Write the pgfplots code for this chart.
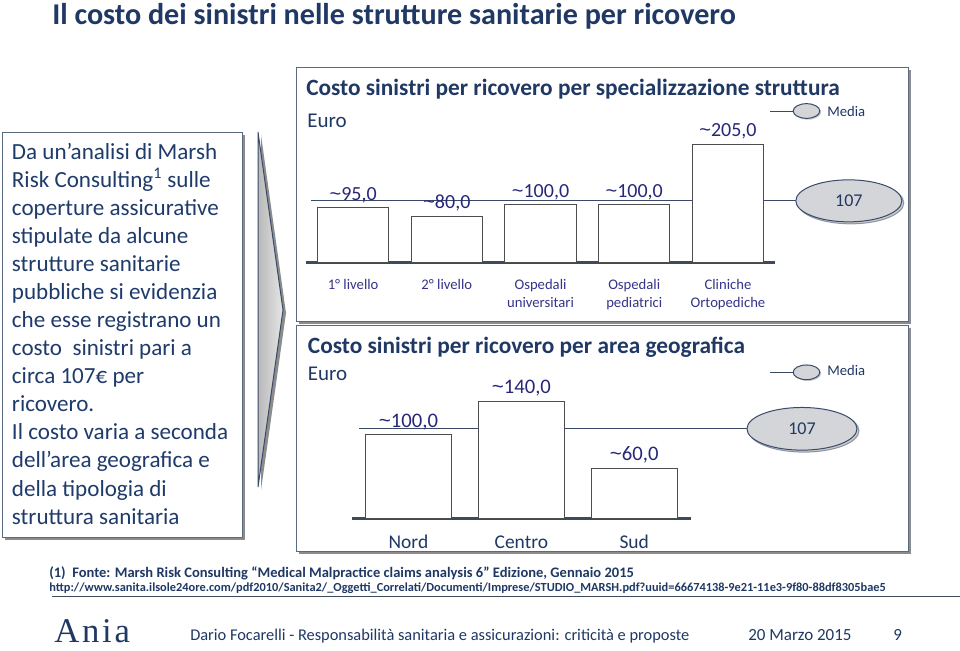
\documentclass[border=0pt]{standalone}
\usepackage{fontspec}
\setmainfont{Carlito}
\newfontfamily\aniafont[LetterSpace=8]{Liberation Serif}
\newfontfamily\tildefont{Liberation Sans}
\usepackage{pgfplots}
\pgfplotsset{compat=1.18}
\usetikzlibrary{shapes.geometric,shadows}

\definecolor{navy}{HTML}{1F3864}
\definecolor{txtblue}{HTML}{1F3B6B}
\definecolor{vallab}{HTML}{27277A}
\definecolor{catlab}{HTML}{35358A}
\definecolor{boxline}{HTML}{5A6A80}
\definecolor{shadowgray}{HTML}{8C8C8C}
\definecolor{baseln}{HTML}{3F4B5B}
\definecolor{medline}{HTML}{3A4A66}
\definecolor{ellfill}{HTML}{D3D5D9}
\definecolor{ellline}{HTML}{3A4A6A}
\definecolor{bardraw}{HTML}{4D4D4D}

\newcommand\fs[2]{\fontsize{#1}{#2}\selectfont}
\newcommand\tld{{\tildefont\textasciitilde}}
\newcommand\ltl[2]{\node[anchor=base west,inner sep=0,text=txtblue,font=\fs{17.3}{21}] at (11.7,#1) {#2};}

\begin{document}
\begin{tikzpicture}
\begin{scope}[x=0.75pt,y=-0.75pt]
\path[use as bounding box, fill=white] (0,0) rectangle (960,650);
% title
\node[anchor=base west, inner sep=0, text=navy, font=\fs{22.6}{26}\bfseries] at (52,24) {Il costo dei sinistri nelle strutture sanitarie per ricovero};
% left box
\fill[shadowgray] (5,135) rectangle (245,540);
\draw[boxline, fill=white, line width=0.75pt] (2,132) rectangle (242,537);
\ltl{159}{Da un’analisi di Marsh}
\ltl{187.1}{Risk Consulting\textsuperscript{1} sulle}
\ltl{215.2}{coperture assicurative}
\ltl{243.2}{stipulate da alcune}
\ltl{271.3}{strutture sanitarie}
\ltl{299.4}{pubbliche si evidenzia}
\ltl{327.5}{che esse registrano un}
\ltl{355.6}{costo\ \ sinistri pari a}
\ltl{383.6}{circa 107€ per}
\ltl{411.7}{ricovero.}
\ltl{439.8}{Il costo varia a seconda}
\ltl{467.9}{dell’area geografica e}
\ltl{496}{della tipologia di}
\ltl{524}{struttura sanitaria}
% chevron
\fill[shadowgray] (261,135) -- (286,313) -- (261,490) -- cycle;
\draw[ellline, line width=0.75pt, left color=gray!55, right color=gray!20] (258,132) -- (283,310) -- (258,487) -- cycle;
% right boxes
\fill[shadowgray] (299,70) rectangle (911,324);
\draw[boxline, fill=white, line width=0.75pt] (296,67) rectangle (908,321);
\fill[shadowgray] (299,328) rectangle (911,554);
\draw[boxline, fill=white, line width=0.75pt] (296,325) rectangle (908,551);
% chart titles
\node[anchor=base west, inner sep=0, text=navy, font=\fs{17.5}{21}\bfseries] at (306,95.5) {Costo sinistri per ricovero per specializzazione struttura};
\node[anchor=base west, inner sep=0, text=navy, font=\fs{15.75}{19}] at (307,127.5) {Euro};
\node[anchor=base west, inner sep=0, text=navy, font=\fs{17.5}{21}\bfseries] at (307.7,353) {Costo sinistri per ricovero per area geografica};
\node[anchor=base west, inner sep=0, text=navy, font=\fs{15.75}{19}] at (307.7,380) {Euro};
% legends
\draw[medline, line width=0.75pt] (770,111) -- (795,111);
\node[ellipse, draw=ellline, fill=ellfill, line width=0.75pt, minimum width=20pt, minimum height=11pt, inner sep=0, drop shadow={shadow xshift=1pt, shadow yshift=-1pt, fill=gray!80}] at (806.5,111) {};
\node[anchor=base west, inner sep=0, text=navy, font=\fs{11}{13}] at (827,116.4) {Media};
\draw[medline, line width=0.75pt] (770,372.3) -- (795,372.3);
\node[ellipse, draw=ellline, fill=ellfill, line width=0.75pt, minimum width=20pt, minimum height=11pt, inner sep=0, drop shadow={shadow xshift=1pt, shadow yshift=-1pt, fill=gray!80}] at (806.5,372.3) {};
\node[anchor=base west, inner sep=0, text=navy, font=\fs{11}{13}] at (827,375.4) {Media};
% footnote
\node[anchor=base west, inner sep=0, text=navy, font=\fs{10.9}{12}\bfseries] at (49,577) {(1)\ \ Fonte: Marsh Risk Consulting “Medical Malpractice claims analysis 6” Edizione, Gennaio 2015};
\node[anchor=base west, inner sep=0, text=navy, font=\fs{9.27}{11}\bfseries] at (49,591.5) {http://www.sanita.ilsole24ore.com/pdf2010/Sanita2/\_Oggetti\_Correlati/Documenti/Imprese/STUDIO\_MARSH.pdf?uuid=66674138-9e21-11e3-9f80-88df8305bae5};
\draw[baseln, line width=1pt] (52,596.5) -- (960,596.5);
% footer
\node[anchor=base west, inner sep=0, text=navy, font=\aniafont\fs{26}{28}] at (54,642) {Ania};
\node[anchor=base west, inner sep=0, text=navy, font=\fs{12.3}{15}] at (190,640) {Dario Focarelli - Responsabilità sanitaria e assicurazioni: criticità e proposte};
\node[anchor=base west, inner sep=0, text=navy, font=\fs{12.75}{15}] at (748,640) {20 Marzo 2015};
\node[anchor=base west, inner sep=0, text=navy, font=\fs{12.75}{15}] at (893,640) {9};
\end{scope}

% ---- top chart ----
\begin{axis}[
  at={(229.7pt,-197.0pt)}, anchor=south west,
  scale only axis, width=351.4pt, height=104pt,
  xmin=-0.5, xmax=4.5, ymin=0, ymax=240,
  axis x line=bottom, axis y line=none,
  x axis line style={-, line width=2.25pt, color=baseln},
  xtick={0,1,2,3,4},
  xticklabels={1° livello, 2° livello, {Ospedali\\universitari}, {Ospedali\\pediatrici}, {Cliniche\\Ortopediche}},
  major tick length=0pt,
  xticklabel style={align=center, font=\fs{11}{13.6}, text=catlab, yshift=-8.7pt},
  ytick=\empty, clip=false,
]
\addplot[medline, line width=0.75pt, forget plot] coordinates {(-0.45,107) (5.29,107)}
  node[pos=1, ellipse, draw=ellline, fill=ellfill, line width=0.75pt, minimum width=79.5pt, minimum height=31.5pt, inner sep=0, drop shadow={shadow xshift=1.5pt, shadow yshift=-1.5pt, fill=gray!80}, font=\fs{13.5}{16}, text=navy] {107};
\addplot[ybar, bar width=0.76, fill=white, draw=bardraw, line width=0.75pt,
  nodes near coords={\tld\pgfmathprintnumber[fixed, fixed zerofill, precision=1, use comma, assume math mode=true]{\pgfplotspointmeta}},
  every node near coord/.append style={font=\fs{15}{18}, text=vallab, yshift=0pt}]
  coordinates {(0,95) (1,80) (2,100) (3,100) (4,205)};
\end{axis}

% ---- bottom chart ----
\begin{axis}[
  at={(264pt,-389.0pt)}, anchor=south west,
  scale only axis, width=254pt, height=126pt,
  xmin=-0.5, xmax=2.5, ymin=0, ymax=200,
  axis x line=bottom, axis y line=none,
  x axis line style={-, line width=2.25pt, color=baseln},
  xtick={0,1,2},
  xticklabels={Nord, Centro, Sud},
  major tick length=0pt,
  xticklabel style={font=\fs{14.6}{17}, text=navy, text height=0.72em, text depth=0.2em, yshift=-12pt},
  ytick=\empty, clip=false,
]
\addplot[medline, line width=0.75pt, forget plot] coordinates {(-0.44,107) (3.486,107)}
  node[pos=1, ellipse, draw=ellline, fill=ellfill, line width=0.75pt, minimum width=82.5pt, minimum height=32pt, inner sep=0, drop shadow={shadow xshift=1.5pt, shadow yshift=-1.5pt, fill=gray!80}, font=\fs{13.5}{16}, text=navy] {107};
\addplot[ybar, bar width=0.76, fill=white, draw=bardraw, line width=0.75pt,
  nodes near coords={\tld\pgfmathprintnumber[fixed, fixed zerofill, precision=1, use comma, assume math mode=true]{\pgfplotspointmeta}},
  every node near coord/.append style={font=\fs{15.5}{18}, text=vallab, yshift=0pt}]
  coordinates {(0,100) (1,140) (2,60)};
\end{axis}
\end{tikzpicture}
\end{document}
